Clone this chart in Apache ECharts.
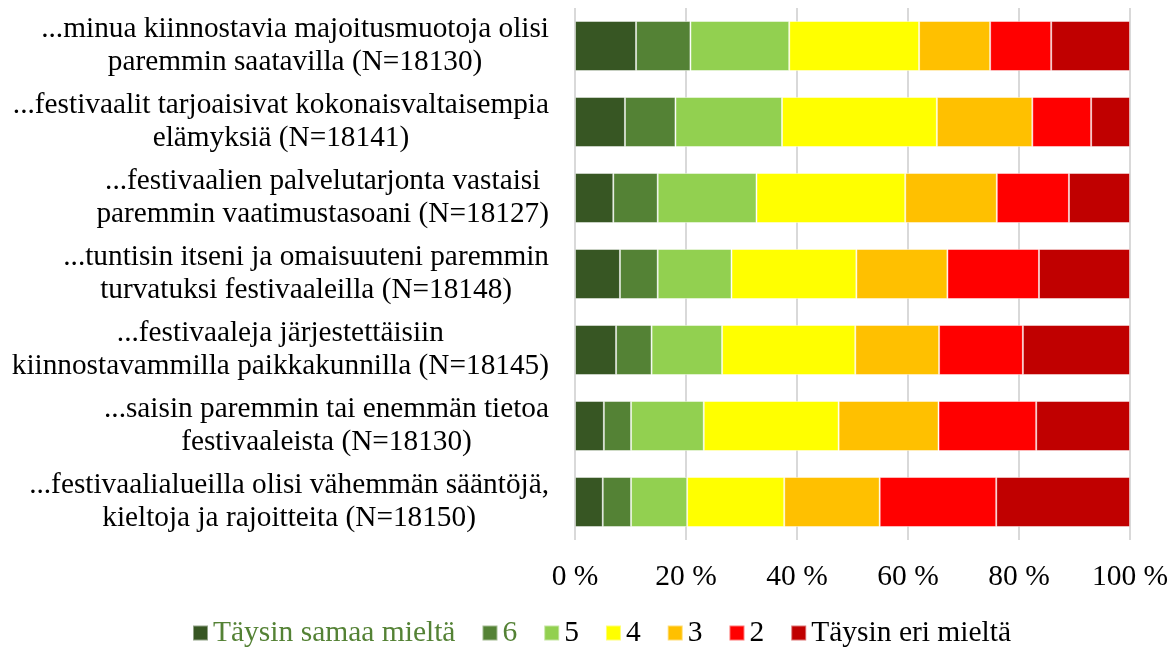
<!DOCTYPE html>
<html>
<head>
<meta charset="utf-8">
<script src="https://cdn.jsdelivr.net/npm/echarts@6/dist/echarts.min.js"></script>
<style>
  html, body { margin: 0; padding: 0; background: #fff; }
  #chart { width: 1176px; height: 648px; }
</style>
</head>
<body>
<div id="chart"></div>
<script>
// kysymykset ylhäältä alas
const categories = [
  '...minua kiinnostavia majoitusmuotoja olisi\nparemmin saatavilla (N=18130)',
  '...festivaalit tarjoaisivat kokonaisvaltaisempia\nelämyksiä (N=18141)',
  '...festivaalien palvelutarjonta vastaisi\nparemmin vaatimustasoani (N=18127)',
  '...tuntisin itseni ja omaisuuteni paremmin\nturvatuksi festivaaleilla (N=18148)',
  '...festivaaleja järjestettäisiin\nkiinnostavammilla paikkakunnilla (N=18145)',
  '...saisin paremmin tai enemmän tietoa\nfestivaaleista (N=18130)',
  '...festivaalialueilla olisi vähemmän sääntöjä,\nkieltoja ja rajoitteita (N=18150)'
];

const seriesNames = ['Täysin samaa mieltä', '6', '5', '4', '3', '2', 'Täysin eri mieltä'];

// prosentit, järjestys = categories
const samaa7 = [11.0, 9.0, 6.9, 8.1, 7.4, 5.2, 5.0];
const val6 = [9.8, 9.1, 8.0, 6.8, 6.4, 4.9, 5.1];
const val5 = [17.8, 19.2, 17.8, 13.3, 12.7, 13.1, 10.1];
const val4 = [23.4, 27.9, 26.8, 22.5, 24.0, 24.3, 17.5];
const val3 = [12.8, 17.2, 16.5, 16.4, 15.1, 18.0, 17.2];
const val2 = [11.0, 10.6, 13.0, 16.5, 15.1, 17.6, 21.0];
const eri1 = [14.2, 7.0, 11.0, 16.4, 19.3, 16.9, 24.1];

const xTicks = [0, 20, 40, 60, 80, 100];

const colors = ['#375623', '#548235', '#92d050', '#ffff00', '#ffc000', '#ff0000', '#c00000'];
const values = [samaa7, val6, val5, val4, val3, val2, eri1];
const font = '"Liberation Serif", "Times New Roman", serif';
const fs = 29.5;
const labelFs = 29.3;

const chart = echarts.init(document.getElementById('chart'));

const option = {
  animation: false,
  color: colors,
  textStyle: { fontFamily: font },
  grid: { left: 575, right: 46, top: 8, bottom: 108 },
  legend: {
    top: 611,
    left: 187,
    itemWidth: 15,
    itemHeight: 15,
    itemGap: 26,
    icon: 'rect',
    textStyle: { fontFamily: font, fontSize: fs, lineHeight: 34, color: '#000' },
    data: seriesNames.map((n, i) => ({
      name: n,
      textStyle: { color: i < 2 ? '#548235' : '#000' }
    }))
  },
  xAxis: {
    type: 'value',
    min: xTicks[0],
    max: xTicks[xTicks.length - 1],
    interval: 20,
    axisLine: { show: false },
    axisTick: { show: false },
    splitLine: { lineStyle: { color: '#d9d9d9', width: 2 } },
    axisLabel: {
      formatter: '{value} %',
      fontFamily: font,
      fontSize: fs,
      color: '#000',
      margin: 22
    }
  },
  yAxis: {
    type: 'category',
    inverse: true,
    data: categories,
    axisLine: { show: false },
    axisTick: { show: false },
    axisLabel: {
      margin: 26,
      color: '#000',
      fontFamily: font,
      fontSize: labelFs,
      lineHeight: 33,
      formatter: v => v.split('\n').map(l => '{c|' + l + '}').join('\n'),
      rich: {
        c: { align: 'center', fontFamily: font, fontSize: labelFs, lineHeight: 33, color: '#000' }
      }
    }
  },
  series: seriesNames.map((n, i) => ({
    name: n,
    type: 'bar',
    stack: 'total',
    barWidth: 50,
    itemStyle: { borderColor: 'rgba(255,255,255,0.45)', borderWidth: 1 },
    data: values[i]
  }))
};

chart.setOption(option);
</script>
</body>
</html>
